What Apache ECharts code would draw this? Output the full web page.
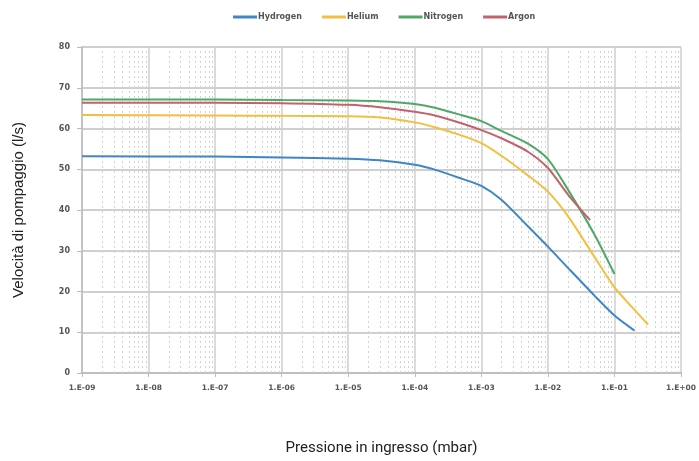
<!DOCTYPE html>
<html><head><meta charset="utf-8">
<script src="https://cdn.jsdelivr.net/npm/echarts@6/dist/echarts.min.js"></script>
<style>html,body{margin:0;padding:0;background:#fff;overflow:hidden;width:100%;height:100%}#c{position:absolute;left:0;top:0;width:100vw;height:100vh}</style>
</head><body><div id="c"></div>
<script>
const seriesNames = ['Hydrogen','Helium','Nitrogen','Argon'];
const hydrogenP = [1e-9,1e-7,1e-6,1e-5,3e-5,1e-4,2e-4,5e-4,1e-3,2e-3,5e-3,1e-2,2e-2,5e-2,1e-1,2e-1];
const hydrogenS = [53.2,53.1,52.9,52.6,52.2,51.1,49.9,47.7,45.9,42.5,36.0,31.0,25.8,19.0,14.1,10.4];
const heliumP = [1e-9,1e-7,1e-6,1e-5,3e-5,1e-4,2e-4,5e-4,1e-3,2e-3,5e-3,1e-2,2e-2,5e-2,1e-1,2e-1,3.2e-1];
const heliumS = [63.3,63.2,63.1,63.0,62.7,61.5,60.3,58.3,56.4,53.3,48.5,44.5,38.5,28.5,21.0,15.5,11.9];
const nitrogenP = [1e-9,1e-7,1e-6,1e-5,3e-5,1e-4,2e-4,5e-4,1e-3,2e-3,5e-3,1e-2,2e-2,5e-2,1e-1];
const nitrogenS = [67.1,67.1,67.0,66.9,66.7,66.0,65.1,63.3,61.8,59.4,56.3,52.5,45.0,34.0,24.3];
const argonP = [1e-9,1e-7,1e-6,1e-5,3e-5,1e-4,2e-4,5e-4,1e-3,2e-3,5e-3,1e-2,2e-2,4.3e-2];
const argonS = [66.3,66.3,66.2,65.8,65.2,64.1,63.2,61.3,59.6,57.6,54.3,50.3,43.8,37.5];
const yTicks = [0,10,20,30,40,50,60,70,80];
const colors = ['#3f86c7','#f4bf3e','#4ea866','#c2636b'];

const minorLines = [];
for (let e = -9; e < 0; e++) for (let m = 2; m <= 9; m++) minorLines.push([m * Math.pow(10, e)]);

function pair(p, s){ return p.map((v,i)=>[v,s[i]]); }
const datas = [pair(hydrogenP,hydrogenS),pair(heliumP,heliumS),pair(nitrogenP,nitrogenS),pair(argonP,argonS)];

const series = [{
  type:'custom', silent:true, z:1, data:minorLines, clip:true,
  renderItem:function(params, api){
    const x = api.value(0);
    const p1 = api.coord([x, yTicks[0]]);
    const p2 = api.coord([x, yTicks[yTicks.length-1]]);
    return {type:'line', shape:{x1:Math.round(p1[0])+0.5, y1:p1[1], x2:Math.round(p2[0])+0.5, y2:p2[1]},
      style:{stroke:'#d2d2d2', lineWidth:1, lineDash:[2,3]}};
  }
}];
seriesNames.forEach((n,i)=>series.push({
  name:n, type:'line', data:datas[i], smooth:0.25, showSymbol:false,
  lineStyle:{width:2, color:colors[i]}, itemStyle:{color:colors[i]}, z:5
}));

function fmt(v){
  const e = Math.round(Math.log10(v));
  const s = e < 0 ? '-' : '+';
  const a = Math.abs(e);
  return '1.E' + s + (a < 10 ? '0' + a : a);
}

const chart = echarts.init(document.getElementById('c'));
chart.setOption({
  animation:false,
  color:colors,
  legend:{data:seriesNames, top:8, left:228, itemWidth:24, itemHeight:3, itemGap:20,
    icon:'rect',
    textStyle:{fontSize:8, color:'#555', fontFamily:'DejaVu Sans', fontWeight:'bold', padding:[0,0,0,-4]}},
  grid:{left:82, right:14, top:47, bottom:79},
  xAxis:{type:'log', logBase:10, min:1e-9, max:1,
    name:'Pressione in ingresso (mbar)', nameLocation:'middle', nameGap:68,
    nameTextStyle:{fontSize:15, color:'#222', fontFamily:'Roboto'},
    axisLine:{lineStyle:{color:'#bbb', width:1.5}},
    axisTick:{show:true, length:4, lineStyle:{color:'#bbb'}},
    axisLabel:{formatter:fmt, fontSize:7.5, color:'#555', fontWeight:'bold', fontFamily:'DejaVu Sans', margin:11},
    splitLine:{show:true, lineStyle:{color:'#cfcfcf', width:1.5}}
  },
  yAxis:{type:'value', min:0, max:80, interval:10,
    name:'Velocità di pompaggio (l/s)', nameLocation:'middle', nameGap:56,
    nameTextStyle:{fontSize:15, color:'#222', fontFamily:'Liberation Sans'},
    axisLine:{show:true, lineStyle:{color:'#bbb', width:1.5}},
    axisTick:{show:true, length:5, lineStyle:{color:'#bbb'}},
    axisLabel:{fontSize:8, color:'#555', fontWeight:'bold', fontFamily:'DejaVu Sans', margin:12},
    splitLine:{show:true, lineStyle:{color:'#cfcfcf', width:2}}
  },
  series:series
});
</script></body></html>
